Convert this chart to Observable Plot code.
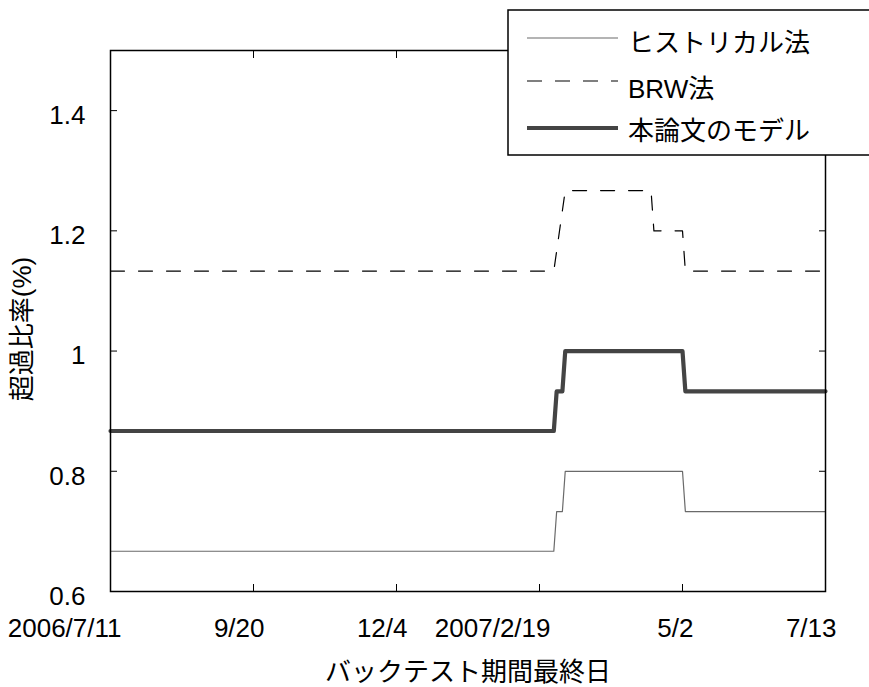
<!DOCTYPE html>
<html><head><meta charset="utf-8">
<script src="https://cdn.jsdelivr.net/npm/d3@7"></script>
<script src="https://cdn.jsdelivr.net/npm/@observablehq/plot@0.6"></script>
<style>body{margin:0;background:#fff}</style>
</head><body><div id="chart"></div><script>
// x: business-day index of the backtest end date
const xTicks = [0, 50, 100, 150, 200, 250];
const xTickLabels = ["2006/7/11", "9/20", "12/4", "2007/2/19", "5/2", "7/13"];
const yTicks = [0.6, 0.8, 1, 1.2, 1.4];
const yTickLabels = ["0.6", "0.8", "1", "1.2", "1.4"];
const seriesNames = ["ヒストリカル法", "BRW法", "本論文のモデル"];
const xLabel = "バックテスト期間最終日";
const yLabel = "超過比率(%)";

const histDay  = [0, 155, 156, 158, 159, 200, 201, 250];
const histRate = [0.667, 0.667, 0.733, 0.733, 0.8, 0.8, 0.733, 0.733];
const brwDay   = [0, 155, 159, 189, 190, 200, 201, 250];
const brwRate  = [1.133, 1.133, 1.267, 1.267, 1.2, 1.2, 1.133, 1.133];
const modelDay  = [0, 155, 156, 158, 159, 200, 201, 250];
const modelRate = [0.867, 0.867, 0.933, 0.933, 1, 1, 0.933, 0.933];

const toRows = (xs, ys) => xs.map((x, i) => ({x, y: ys[i]}));
const hist = toRows(histDay, histRate);
const brw = toRows(brwDay, brwRate);
const model = toRows(modelDay, modelRate);

const FONT = "'Liberation Sans', 'Noto Sans CJK JP', sans-serif";
const fs = 26;

const chart = Plot.plot({
  width: 869, height: 687,
  marginLeft: 110, marginRight: 44, marginTop: 50, marginBottom: 96,
  style: {fontFamily: FONT, background: "white", color: "black", overflow: "visible"},
  x: {domain: [0, 250]},
  y: {domain: [0.6, 1.5]},
  marks: [
    Plot.line(hist, {x: "x", y: "y", stroke: "#6a6a6a", strokeWidth: 1.2}),
    Plot.line(brw, {x: "x", y: "y", stroke: "black", strokeWidth: 1.2, strokeDasharray: "14,14"}),
    Plot.line(model, {x: "x", y: "y", stroke: "#444", strokeWidth: 4.2, strokeLinejoin: "round"}),
    Plot.frame({stroke: "black", strokeWidth: 1.5}),
    // inward ticks on all four sides
    Plot.axisX({anchor: "bottom", ticks: xTicks, tickSize: 7, dy: -7, text: null, label: null}),
    Plot.axisX({anchor: "top", ticks: xTicks, tickSize: 7, dy: 7, text: null, label: null}),
    Plot.axisY({anchor: "left", ticks: yTicks, tickSize: 7, dx: 7, text: null, label: null}),
    Plot.axisY({anchor: "right", ticks: yTicks, tickSize: 7, dx: -7, text: null, label: null}),
    // tick labels
    Plot.axisX({anchor: "bottom", ticks: xTicks, tickSize: 0, tickPadding: 27, fontSize: fs,
      textAnchor: "end", dx: 11, tickFormat: d => xTickLabels[xTicks.indexOf(d)], label: null}),
    Plot.axisY({anchor: "left", ticks: yTicks, tickSize: 0, tickPadding: 25, fontSize: fs, dy: 5,
      tickFormat: d => yTickLabels[yTicks.indexOf(d)], label: null}),
    Plot.text([xLabel], {text: d => d, frameAnchor: "bottom", dy: 81, fontSize: fs, lineAnchor: "middle"}),
    Plot.text([yLabel], {text: d => d, frameAnchor: "left", rotate: -90, dx: -88, dy: 8, fontSize: fs,
      lineAnchor: "middle", textAnchor: "middle"})
  ]
});
document.getElementById("chart").appendChild(chart);

// legend box (top right, overlapping the frame)
const svg = d3.select(chart);
const lg = svg.append("g").attr("font-family", FONT).attr("font-size", fs).attr("text-anchor", "start");
lg.append("rect").attr("x", 508).attr("y", 10).attr("width", 400).attr("height", 145)
  .attr("fill", "white").attr("stroke", "black").attr("stroke-width", 1.5);
const legendStyles = [
  {stroke: "#6a6a6a", width: 1.2, dash: null, ly: 38, ty: 52},
  {stroke: "black", width: 1.2, dash: "15,13", ly: 81, ty: 98},
  {stroke: "#444", width: 4.2, dash: null, ly: 128, ty: 140}
];
seriesNames.forEach((name, i) => {
  const s = legendStyles[i];
  lg.append("line").attr("x1", 527).attr("x2", 618).attr("y1", s.ly).attr("y2", s.ly)
    .attr("stroke", s.stroke).attr("stroke-width", s.width).attr("stroke-dasharray", s.dash);
  lg.append("text").attr("x", 628).attr("y", s.ty).attr("fill", "black")
    .attr("text-anchor", "start").text(name);
});
</script></body></html>
